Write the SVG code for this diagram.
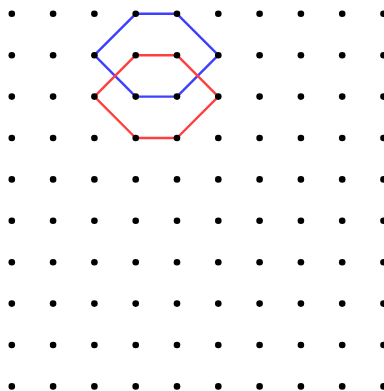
<svg xmlns="http://www.w3.org/2000/svg" width="384" height="391" viewBox="0 0 384 391">
<style>
.dot{fill:#000}
.hex{fill:none;stroke-width:2.4;stroke-linejoin:round}
#blue polygon{stroke:#3f3fff}
#red polygon{stroke:#ff3f3f}
</style>
<defs><circle id="d" r="3.3" class="dot"/></defs>
<rect width="384" height="391" fill="#fff"/>
<g id="blue"><polygon class="hex" points="135.7,13.8 177,13.8 218.3,55.2 177,96.6 135.7,96.6 94.4,55.2"/></g>
<g id="red"><polygon class="hex" points="135.7,55.2 177,55.2 218.3,96.6 177,138 135.7,138 94.4,96.6"/></g>
<g id="grid">
<g id="r0"><use href="#d" x="11.8" y="13.8"/><use href="#d" x="53.1" y="13.8"/><use href="#d" x="94.4" y="13.8"/><use href="#d" x="135.7" y="13.8"/><use href="#d" x="177" y="13.8"/><use href="#d" x="218.3" y="13.8"/><use href="#d" x="259.6" y="13.8"/><use href="#d" x="300.9" y="13.8"/><use href="#d" x="342.2" y="13.8"/><use href="#d" x="383.5" y="13.8"/></g>
<use href="#r0" y="41.4"/>
<use href="#r0" y="82.8"/>
<use href="#r0" y="124.2"/>
<use href="#r0" y="165.6"/>
<use href="#r0" y="207"/>
<use href="#r0" y="248.4"/>
<use href="#r0" y="289.8"/>
<use href="#r0" y="331.2"/>
<use href="#r0" y="372.6"/>
</g>
</svg>
